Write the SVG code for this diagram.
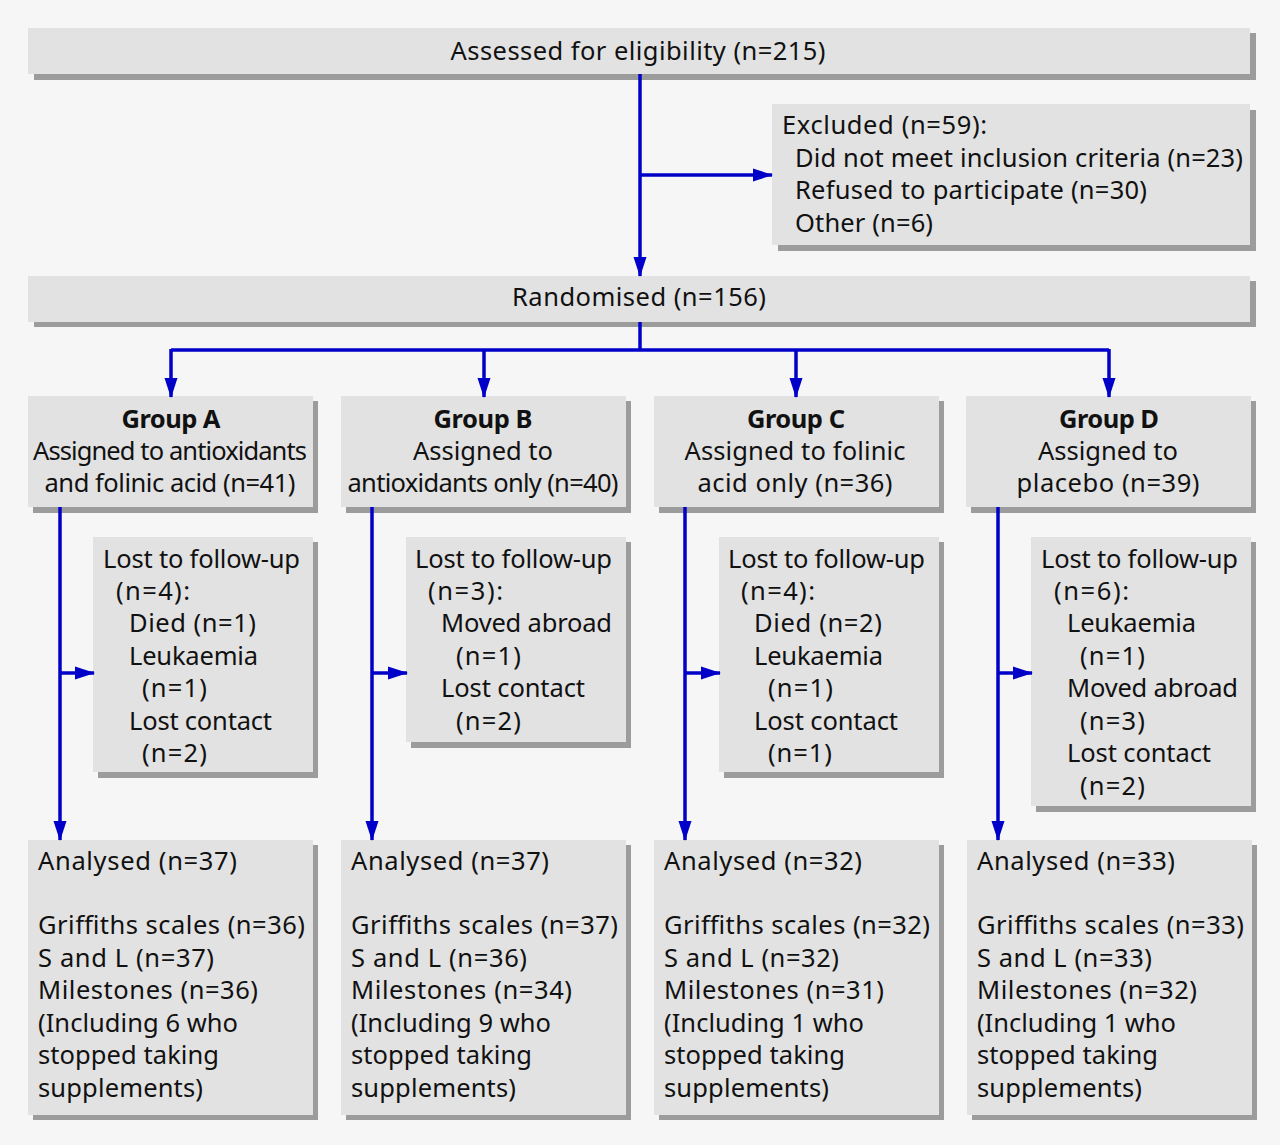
<svg xmlns="http://www.w3.org/2000/svg" width="1280" height="1145" viewBox="0 0 1280 1145">
<style>
.bx{fill:#e2e2e2}
.sh{fill:#9c9c9c}
text{font-family:"Noto Sans","DejaVu Sans",sans-serif;font-size:25.5px;fill:#111}
.b{font-weight:bold}
.c{text-anchor:middle}
.ln{stroke:#0000c8;stroke-width:3.5;fill:none}
</style>
<defs>
<marker id="ah" markerUnits="userSpaceOnUse" markerWidth="20" markerHeight="14" refX="19" refY="7" orient="auto">
<path d="M0,0.5 L20,7 L0,13.5 Z" fill="#0000c8"/>
</marker>
</defs>
<rect width="1280" height="1145" fill="#f6f6f6"/>
<g id="assessed">
<rect class="sh" x="34" y="33" width="1222" height="47"/>
<rect class="bx" x="28" y="28" width="1222" height="46"/>
<text class="c" x="638" y="60" textLength="375">Assessed for eligibility (n=215)</text>
</g>
<g id="excluded">
<rect class="sh" x="778" y="110" width="478" height="141"/>
<rect class="bx" x="772" y="104" width="478" height="141"/>
<text x="782" y="134" textLength="205">Excluded (n=59):</text>
<text x="795" y="167" textLength="448">Did not meet inclusion criteria (n=23)</text>
<text x="795" y="199" textLength="352">Refused to participate (n=30)</text>
<text x="795" y="232" textLength="138">Other (n=6)</text>
</g>
<g id="randomised">
<rect class="sh" x="34" y="281" width="1222" height="46"/>
<rect class="bx" x="28" y="276" width="1222" height="46"/>
<text class="c" x="639" y="306" textLength="254">Randomised (n=156)</text>
</g>
<g id="groupA">
<rect class="sh" x="33" y="401" width="285" height="112"/>
<rect class="bx" x="28" y="396" width="285" height="111"/>
<text class="c b" x="171" y="428" textLength="99">Group A</text>
<text class="c" x="170" y="460" textLength="274">Assigned to antioxidants</text>
<text class="c" x="170" y="492" textLength="251">and folinic acid (n=41)</text>
</g>
<g id="groupB">
<rect class="sh" x="346" y="401" width="285" height="112"/>
<rect class="bx" x="341" y="396" width="285" height="111"/>
<text class="c b" x="483" y="428" textLength="99">Group B</text>
<text class="c" x="483" y="460" textLength="140">Assigned to</text>
<text class="c" x="483" y="492" textLength="271">antioxidants only (n=40)</text>
</g>
<g id="groupC">
<rect class="sh" x="659" y="401" width="285" height="112"/>
<rect class="bx" x="654" y="396" width="285" height="111"/>
<text class="c b" x="796" y="428" textLength="98">Group C</text>
<text class="c" x="795" y="460" textLength="221">Assigned to folinic</text>
<text class="c" x="795" y="492" textLength="195">acid only (n=36)</text>
</g>
<g id="groupD">
<rect class="sh" x="971" y="401" width="285" height="112"/>
<rect class="bx" x="966" y="396" width="285" height="111"/>
<text class="c b" x="1109" y="428" textLength="100">Group D</text>
<text class="c" x="1108" y="460" textLength="140">Assigned to</text>
<text class="c" x="1108" y="492" textLength="183">placebo (n=39)</text>
</g>
<g id="lostA">
<rect class="sh" x="98" y="542" width="220" height="236"/>
<rect class="bx" x="93" y="537" width="220" height="235"/>
<text x="103" y="568" textLength="197">Lost to follow-up</text>
<text x="116" y="600" textLength="74">(n=4):</text>
<text x="129" y="632" textLength="127">Died (n=1)</text>
<text x="129" y="665" textLength="129">Leukaemia</text>
<text x="142" y="697" textLength="65">(n=1)</text>
<text x="129" y="730" textLength="143">Lost contact</text>
<text x="142" y="762" textLength="65">(n=2)</text>
</g>
<g id="lostB">
<rect class="sh" x="411" y="542" width="220" height="206"/>
<rect class="bx" x="406" y="537" width="220" height="205"/>
<text x="415" y="568" textLength="197">Lost to follow-up</text>
<text x="428" y="600" textLength="75">(n=3):</text>
<text x="441" y="632" textLength="171">Moved abroad</text>
<text x="456" y="665" textLength="65">(n=1)</text>
<text x="441" y="697" textLength="144">Lost contact</text>
<text x="456" y="730" textLength="65">(n=2)</text>
</g>
<g id="lostC">
<rect class="sh" x="724" y="542" width="220" height="236"/>
<rect class="bx" x="719" y="537" width="220" height="235"/>
<text x="728" y="568" textLength="197">Lost to follow-up</text>
<text x="741" y="600" textLength="74">(n=4):</text>
<text x="754" y="632" textLength="128">Died (n=2)</text>
<text x="754" y="665" textLength="129">Leukaemia</text>
<text x="768" y="697" textLength="65">(n=1)</text>
<text x="754" y="730" textLength="144">Lost contact</text>
<text x="768" y="762" textLength="64">(n=1)</text>
</g>
<g id="lostD">
<rect class="sh" x="1036" y="542" width="220" height="270"/>
<rect class="bx" x="1031" y="537" width="220" height="269"/>
<text x="1041" y="568" textLength="197">Lost to follow-up</text>
<text x="1054" y="600" textLength="75">(n=6):</text>
<text x="1067" y="632" textLength="129">Leukaemia</text>
<text x="1080" y="665" textLength="65">(n=1)</text>
<text x="1067" y="697" textLength="171">Moved abroad</text>
<text x="1080" y="730" textLength="65">(n=3)</text>
<text x="1067" y="762" textLength="144">Lost contact</text>
<text x="1080" y="795" textLength="65">(n=2)</text>
</g>
<g id="analysedA">
<rect class="sh" x="33" y="845" width="285" height="275"/>
<rect class="bx" x="28" y="840" width="285" height="275"/>
<text x="38" y="870" textLength="199">Analysed (n=37)</text>
<text x="38" y="934" textLength="267">Griffiths scales (n=36)</text>
<text x="38" y="967" textLength="176">S and L (n=37)</text>
<text x="38" y="999" textLength="220">Milestones (n=36)</text>
<text x="38" y="1032" textLength="200">(Including 6 who</text>
<text x="38" y="1064" textLength="181">stopped taking</text>
<text x="38" y="1097" textLength="165">supplements)</text>
</g>
<g id="analysedB">
<rect class="sh" x="346" y="845" width="285" height="275"/>
<rect class="bx" x="341" y="840" width="285" height="275"/>
<text x="351" y="870" textLength="198">Analysed (n=37)</text>
<text x="351" y="934" textLength="267">Griffiths scales (n=37)</text>
<text x="351" y="967" textLength="176">S and L (n=36)</text>
<text x="351" y="999" textLength="221">Milestones (n=34)</text>
<text x="351" y="1032" textLength="200">(Including 9 who</text>
<text x="351" y="1064" textLength="181">stopped taking</text>
<text x="351" y="1097" textLength="165">supplements)</text>
</g>
<g id="analysedC">
<rect class="sh" x="659" y="845" width="285" height="275"/>
<rect class="bx" x="654" y="840" width="285" height="275"/>
<text x="664" y="870" textLength="198">Analysed (n=32)</text>
<text x="664" y="934" textLength="266">Griffiths scales (n=32)</text>
<text x="664" y="967" textLength="175">S and L (n=32)</text>
<text x="664" y="999" textLength="220">Milestones (n=31)</text>
<text x="664" y="1032" textLength="200">(Including 1 who</text>
<text x="664" y="1064" textLength="181">stopped taking</text>
<text x="664" y="1097" textLength="165">supplements)</text>
</g>
<g id="analysedD">
<rect class="sh" x="972" y="845" width="285" height="275"/>
<rect class="bx" x="967" y="840" width="285" height="275"/>
<text x="977" y="870" textLength="198">Analysed (n=33)</text>
<text x="977" y="934" textLength="267">Griffiths scales (n=33)</text>
<text x="977" y="967" textLength="175">S and L (n=33)</text>
<text x="977" y="999" textLength="220">Milestones (n=32)</text>
<text x="977" y="1032" textLength="199">(Including 1 who</text>
<text x="977" y="1064" textLength="181">stopped taking</text>
<text x="977" y="1097" textLength="165">supplements)</text>
</g>
<g id="connectors" class="ln">
<path d="M640,74 V276" marker-end="url(#ah)"/>
<path d="M640,175 H772" marker-end="url(#ah)"/>
<path d="M640,322 V350"/>
<path d="M171,350 H1109"/>
<path d="M171,349 V397" marker-end="url(#ah)"/>
<path d="M484,349 V397" marker-end="url(#ah)"/>
<path d="M796,349 V397" marker-end="url(#ah)"/>
<path d="M1109,349 V397" marker-end="url(#ah)"/>
<path d="M60,507 V840" marker-end="url(#ah)"/>
<path d="M60,673 H94" marker-end="url(#ah)"/>
<path d="M372,507 V840" marker-end="url(#ah)"/>
<path d="M372,673 H407" marker-end="url(#ah)"/>
<path d="M685,507 V840" marker-end="url(#ah)"/>
<path d="M685,673 H720" marker-end="url(#ah)"/>
<path d="M998,507 V840" marker-end="url(#ah)"/>
<path d="M998,673 H1032" marker-end="url(#ah)"/>
</g>
</svg>
